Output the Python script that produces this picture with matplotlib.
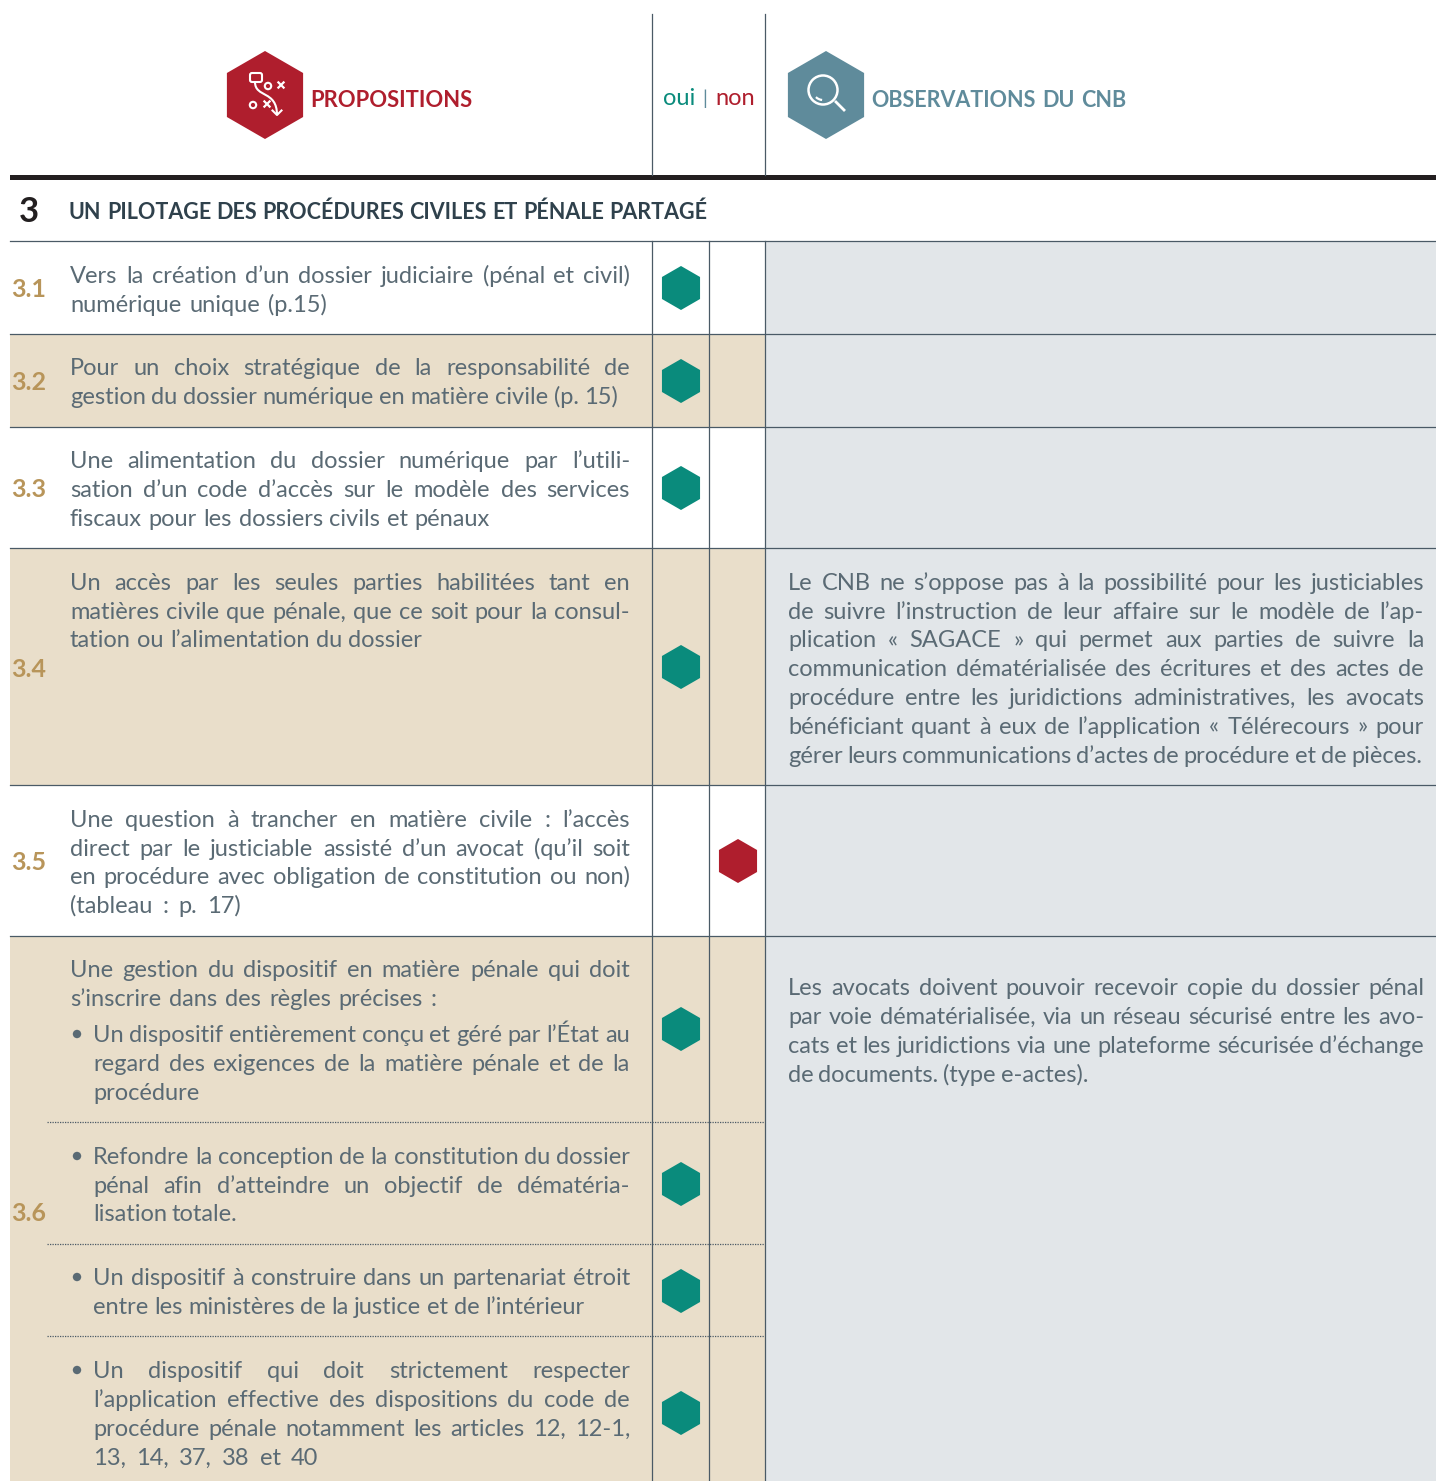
"""Table page: propositions, oui/non answers and CNB observations."""

import matplotlib

matplotlib.use("Agg")
import matplotlib.pyplot as plt
from matplotlib.patches import Arc, Circle, FancyBboxPatch, PathPatch, Rectangle, RegularPolygon
from matplotlib.path import Path

plt.rcParams["font.family"] = ["Lato", "DejaVu Sans"]

# ---- content ----
section_number = "3"
section_title = "UN PILOTAGE DES PROCÉDURES CIVILES ET PÉNALE PARTAGÉ"
header_left = "PROPOSITIONS"
header_right = "OBSERVATIONS DU CNB"
row_labels = ["3.1", "3.2", "3.3", "3.4", "3.5", "3.6"]

text_31 = ["Vers la création d’un dossier judiciaire (pénal et civil)",
           "numérique unique (p.15)"]
text_32 = ["Pour un choix stratégique de la responsabilité de",
           "gestion du dossier numérique en matière civile (p. 15)"]
text_33 = ["Une alimentation du dossier numérique par l’utili-",
           "sation d’un code d’accès sur le modèle des services",
           "fiscaux pour les dossiers civils et pénaux"]
text_34 = ["Un accès par les seules parties habilitées tant en",
           "matières civile que pénale, que ce soit pour la consul-",
           "tation ou l’alimentation du dossier"]
text_35 = ["Une question à trancher en matière civile : l’accès",
           "direct par le justiciable assisté d’un avocat (qu’il soit",
           "en procédure avec obligation de constitution ou non)",
           "(tableau : p. 17)"]
text_36 = ["Une gestion du dispositif en matière pénale qui doit",
           "s’inscrire dans des règles précises :"]
bullet_a = ["Un dispositif entièrement conçu et géré par l’État au",
            "regard des exigences de la matière pénale et de la",
            "procédure"]
bullet_b = ["Refondre la conception de la constitution du dossier",
            "pénal afin d’atteindre un objectif de dématéria-",
            "lisation totale."]
bullet_c = ["Un dispositif à construire dans un partenariat étroit",
            "entre les ministères de la justice et de l’intérieur"]
bullet_d = ["Un dispositif qui doit strictement respecter",
            "l’application effective des dispositions du code de",
            "procédure pénale notamment les articles 12, 12-1,",
            "13, 14, 37, 38 et 40"]
obs_34 = ["Le CNB ne s’oppose pas à la possibilité pour les justiciables",
          "de suivre l’instruction de leur affaire sur le modèle de l’ap-",
          "plication « SAGACE » qui permet aux parties de suivre la",
          "communication dématérialisée des écritures et des actes de",
          "procédure entre les juridictions administratives, les avocats",
          "bénéficiant quant à eux de l’application « Télérecours » pour",
          "gérer leurs communications d’actes de procédure et de pièces."]
obs_36 = ["Les avocats doivent pouvoir recevoir copie du dossier pénal",
          "par voie dématérialisée, via un réseau sécurisé entre les avo-",
          "cats et les juridictions via une plateforme sécurisée d’échange",
          "de documents. (type e-actes)."]
answers = ["oui", "oui", "oui", "oui", "non", "oui", "oui", "oui", "oui"]

# ---- layout, in image pixels ----
W, H = 1436, 1481
row_edges = [241, 334, 427, 548, 785, 936, 1481]
row_label_y = [288, 381, 488, 668, 861, 1212]
answer_y = [288, 381, 488, 667, 861, 1029, 1184, 1291, 1413]
answer_x = {"oui": 681, "non": 738}
dotted_y = [1122, 1244, 1336]
col_lines = [652, 709, 765]
beige_rows = [1, 3, 5]
bullet_y = [1034, 1156, 1277, 1370]

# lines, left, right, centre y of each line, right end of the last line
blocks = [
    (text_31, 70, 630, [275, 304], 327),
    (text_32, 70, 630, [367, 396], 618),
    (text_33, 70, 630, [460, 489, 518], 490),
    (text_34, 70, 630, [582, 611, 639], 422),
    (text_35, 70, 630, [819, 848, 876, 905], 241),
    (text_36, 70, 630, [969, 998], 437),
    (bullet_a, 93, 630, [1034, 1063, 1092], 199),
    (bullet_b, 93, 630, [1156, 1185, 1213], 237),
    (bullet_c, 93, 630, [1277, 1306], 584),
    (bullet_d, 93, 630, [1370, 1399, 1428, 1457], 318),
    (obs_34, 788, 1424, [582, 611, 639, 668, 697, 726, 755], 1422),
    (obs_36, 788, 1424, [987, 1016, 1045, 1074], 1088),
]

TEXT = "#5A6A74"
DARK = "#2F414C"
RULE = "#4A5A66"
GOLD = "#B8955A"
BEIGE = "#E9DECA"
GREY = "#E2E6E9"
TEAL = "#0A8B7C"
RED = "#AF1E2D"
SLATE = "#5F8B9B"

fig = plt.figure(figsize=(W / 100, H / 100), dpi=100)
ax = fig.add_axes([0, 0, 1, 1])
ax.set_xlim(0, W)
ax.set_ylim(H, 0)
ax.axis("off")
renderer = fig.canvas.get_renderer()


def draw_line(line, x0, x1, baseline, **kw):
    """Place the words of a line so they span x0..x1 (justified setting)."""
    words = line.split(" ")
    items = [ax.text(x0, baseline, w, va="baseline", ha="left", **kw) for w in words]
    widths = [t.get_window_extent(renderer).width for t in items]
    gap = (x1 - x0 - sum(widths)) / max(len(words) - 1, 1)
    x = x0
    for t, width in zip(items, widths):
        t.set_x(x)
        x += width + gap


def hexagon(cx, cy, radius, color):
    ax.add_patch(RegularPolygon((cx, cy), 6, radius=radius, color=color, lw=0, zorder=3))


def cross(cx, cy, s=2.6):
    ax.plot([cx - s, cx + s], [cy - s, cy + s], color="white", lw=1.6, zorder=4)
    ax.plot([cx - s, cx + s], [cy + s, cy - s], color="white", lw=1.6, zorder=4)


# backgrounds
ax.add_patch(Rectangle((col_lines[2], row_edges[0]), W - col_lines[2], H - row_edges[0], color=GREY, lw=0))
for i in beige_rows:
    ax.add_patch(Rectangle((10, row_edges[i]), col_lines[2] - 10, row_edges[i + 1] - row_edges[i],
                           color=BEIGE, lw=0))

# rules
ax.add_patch(Rectangle((10, 175), W - 10, 5, color="#231F20", lw=0, zorder=2))
for y in row_edges[:-1]:
    ax.plot([10, W], [y, y], color=RULE, lw=0.9, zorder=2)
for x in col_lines:
    ax.plot([x, x], [row_edges[0], H], color=RULE, lw=0.9, zorder=2)
for x in (col_lines[0], col_lines[2]):
    ax.plot([x, x], [14, 175], color=RULE, lw=0.9, zorder=2)
for y in dotted_y:
    ax.plot([47, col_lines[2]], [y, y], color=RULE, lw=0.9, ls=(0, (1, 1)), zorder=2)

# header icons
hexagon(265, 95, 44, RED)
hexagon(826, 95, 44, SLATE)
ax.add_patch(FancyBboxPatch((250, 73), 12, 9, boxstyle="round,pad=0,rounding_size=2",
                            fc="none", ec="white", lw=1.5, zorder=4))
ax.add_patch(Circle((268, 86), 3.2, fc="none", ec="white", lw=1.5, zorder=4))
ax.add_patch(Circle((253, 105), 3.2, fc="none", ec="white", lw=1.5, zorder=4))
cross(281, 85)
cross(267, 104)
ax.add_patch(PathPatch(Path([(255, 82), (255, 98), (277, 90), (277, 115)],
                            [Path.MOVETO, Path.CURVE4, Path.CURVE4, Path.CURVE4]),
                       fc="none", ec="white", lw=1.5, zorder=4))
ax.plot([272.5, 277, 281.5], [110.5, 115, 110.5], color="white", lw=1.5, zorder=4)
ax.add_patch(Circle((823, 90), 14.5, fc="none", ec="white", lw=1.8, zorder=4))
ax.add_patch(Arc((823, 90), 20, 20, theta1=95, theta2=135, color="white", lw=1.6, zorder=4))
ax.plot([836, 844], [102, 110], color="white", lw=2, zorder=4)

# header texts
draw_line(header_left, 310, 472, 107, fontsize=15.8, fontweight="bold", color=RED)
draw_line(header_right, 871, 1126, 107, fontsize=15.5, fontweight="bold", color=SLATE)
ax.text(663, 105, "oui", fontsize=17, color=TEAL, va="baseline")
ax.text(705, 105, "|", fontsize=14, color=SLATE, va="baseline", ha="center")
ax.text(715, 105, "non", fontsize=17, color=RED, va="baseline")
ax.text(19, 222, section_number, fontsize=25, color="#231F20", fontweight="bold", va="baseline")
draw_line(section_title, 69, 707, 219, fontsize=15.5, fontweight="bold", color=DARK)

# row numbers
for label, y in zip(row_labels, row_label_y):
    ax.text(11, y + 9, label, fontsize=18, fontweight="bold", color=GOLD, va="baseline")

# body text
for lines, x0, x1, ys, last_end in blocks:
    for i, (line, y) in enumerate(zip(lines, ys)):
        end = last_end if i == len(lines) - 1 else x1
        draw_line(line, x0, end, y + 8, fontsize=17, color=TEXT)

# bullets
for y in bullet_y:
    ax.add_patch(Circle((77, y), 4.2, color=TEXT, lw=0, zorder=3))

# answers
for answer, y in zip(answers, answer_y):
    hexagon(answer_x[answer], y, 22, TEAL if answer == "oui" else RED)

fig.savefig("out.png", dpi=100)
plt.close(fig)
